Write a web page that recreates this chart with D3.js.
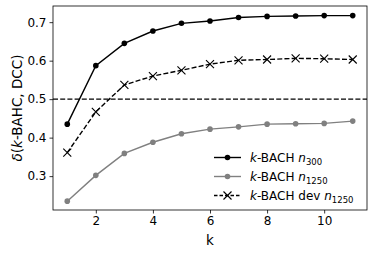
<!DOCTYPE html>
<html>
<head>
<meta charset="utf-8">
<script src="https://cdn.jsdelivr.net/npm/d3@7"></script>
<style>
  body { margin: 0; background: #fff; }
  text { font-family: "DejaVu Sans", sans-serif; fill: #000; }
</style>
</head>
<body>
<div id="chart"></div>
<script>
(function() {
  'use strict';

  var kValues = [1, 2, 3, 4, 5, 6, 7, 8, 9, 10, 11];
  var n300 = [0.435, 0.587, 0.645, 0.677, 0.697, 0.703, 0.712, 0.715, 0.716, 0.717, 0.717];
  var n1250 = [0.235, 0.302, 0.359, 0.388, 0.410, 0.422, 0.428, 0.435, 0.436, 0.437, 0.443];
  var dev1250 = [0.361, 0.467, 0.537, 0.560, 0.575, 0.591, 0.601, 0.603, 0.606, 0.605, 0.603];
  var xTicks = [2, 4, 6, 8, 10];
  var yTicks = [0.3, 0.4, 0.5, 0.6, 0.7];
  var refLine = 0.5;

  var svgW = 374,
    svgH = 255;

  var margin = {top: 6, right: 7, bottom: 45, left: 53};
  var w = svgW - margin.left - margin.right,
    h = svgH - margin.top - margin.bottom;

  var svg = d3.select('#chart')
    .append('svg')
    .attr('width', svgW)
    .attr('height', svgH);

  var g = svg.append('g')
    .attr('transform', 'translate(' + margin.left + ',' + margin.top + ')');

  var x = d3.scaleLinear().domain([0.5, 11.5]).range([0, w]);
  var y = d3.scaleLinear().domain([0.212, 0.742]).range([h, 0]);

  // reference line at 0.5
  g.append('line')
    .attr('x1', 0).attr('x2', w)
    .attr('y1', y(refLine)).attr('y2', y(refLine))
    .attr('stroke', '#000')
    .attr('stroke-width', 1.3)
    .attr('stroke-dasharray', '5,2.2');

  var series = [
    {name: 'n300', values: n300, color: '#000', dash: null, marker: 'circle', label: '300'},
    {name: 'n1250', values: n1250, color: '#808080', dash: null, marker: 'circle', label: '1250'},
    {name: 'dev', values: dev1250, color: '#000', dash: '5,2.2', marker: 'x', label: '1250'}
  ];

  var line = d3.line()
    .x(function(d) { return x(d.k); })
    .y(function(d) { return y(d.v); });

  function toPoints(values) {
    return values.map(function(v, i) {
      return {k: kValues[i], v: v};
    });
  }

  function drawMarker(sel, s, cx, cy) {
    if (s.marker === 'circle') {
      sel.append('circle')
        .attr('cx', cx).attr('cy', cy).attr('r', 2.8)
        .attr('fill', s.color);
    } else {
      var r = 4;
      sel.append('path')
        .attr('d', 'M' + (cx - r) + ',' + (cy - r) + 'L' + (cx + r) + ',' + (cy + r) +
          'M' + (cx - r) + ',' + (cy + r) + 'L' + (cx + r) + ',' + (cy - r))
        .attr('stroke', s.color)
        .attr('stroke-width', 1.1)
        .attr('fill', 'none');
    }
  }

  series.forEach(function(s) {
    var pts = toPoints(s.values);
    g.append('path')
      .datum(pts)
      .attr('d', line)
      .attr('fill', 'none')
      .attr('stroke', s.color)
      .attr('stroke-width', 1.4)
      .attr('stroke-dasharray', s.dash);
    var mg = g.append('g');
    pts.forEach(function(p) {
      drawMarker(mg, s, x(p.k), y(p.v));
    });
  });

  // axes
  var xAxis = d3.axisBottom(x).tickValues(xTicks).tickSize(3.5).tickPadding(3).tickFormat(d3.format('d'));
  var yAxis = d3.axisLeft(y).tickValues(yTicks).tickSize(3.5).tickPadding(3).tickFormat(d3.format('.1f'));

  var gx = g.append('g').attr('transform', 'translate(0,' + h + ')').call(xAxis);
  var gy = g.append('g').call(yAxis);
  [gx, gy].forEach(function(a) {
    a.select('.domain').remove();
    a.selectAll('text').attr('font-size', 12).attr('fill', '#000')
      .style('font-family', '"DejaVu Sans", sans-serif');
    a.selectAll('line').attr('stroke', '#000').attr('stroke-width', 0.8);
  });

  // frame
  g.append('rect')
    .attr('width', w).attr('height', h)
    .attr('fill', 'none')
    .attr('stroke', '#000')
    .attr('stroke-width', 0.8);

  // axis labels
  svg.append('text')
    .attr('x', margin.left + x(6))
    .attr('y', 245)
    .attr('text-anchor', 'middle')
    .attr('font-size', 13.5)
    .attr('fill', '#000')
    .text('k');

  var yl = svg.append('text')
    .attr('transform', 'translate(22,' + (margin.top + h / 2) + ') rotate(-90)')
    .attr('text-anchor', 'middle')
    .attr('font-size', 13.5)
    .attr('fill', '#000');
  yl.append('tspan').attr('font-style', 'italic').text('δ');
  yl.append('tspan').text('(');
  yl.append('tspan').attr('font-style', 'italic').text('k');
  yl.append('tspan').text('-BAHC, DCC)');

  // legend
  var legendY = [157.5, 176.5, 195.5];
  var lg = svg.append('g');
  series.forEach(function(s, i) {
    var ly = legendY[i];
    lg.append('line')
      .attr('x1', 214).attr('x2', 241)
      .attr('y1', ly).attr('y2', ly)
      .attr('stroke', s.color)
      .attr('stroke-width', 1.4)
      .attr('stroke-dasharray', s.dash ? '3.5,2' : null);
    drawMarker(lg, s, 227.5, ly);
    var t = lg.append('text')
      .attr('x', 250)
      .attr('y', ly + 4.5)
      .attr('font-size', 12)
      .attr('fill', '#000');
    t.append('tspan').attr('font-style', 'italic').text('k');
    t.append('tspan').text(s.name === 'dev' ? '-BACH dev ' : '-BACH ');
    t.append('tspan').attr('font-style', 'italic').text('n');
    t.append('tspan').attr('font-size', 8.5).attr('dy', 2.5).text(s.label);
  });

}());
</script>
</body>
</html>
